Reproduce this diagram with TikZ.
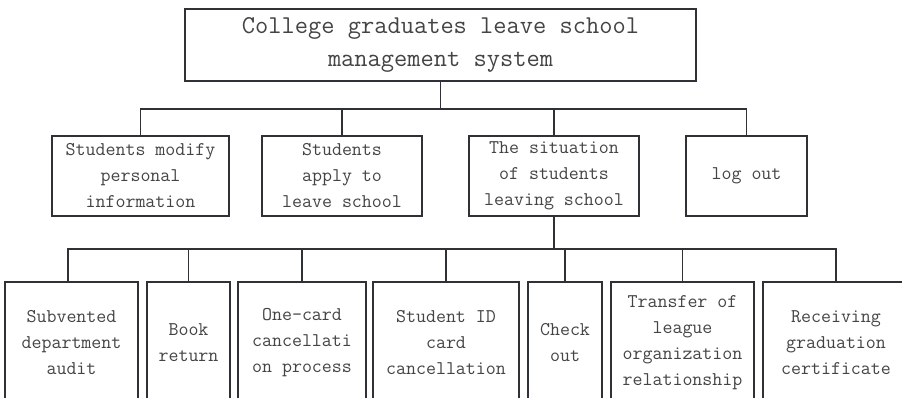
\documentclass[tikz,border=0pt]{standalone}
\usepackage{fontspec}
\definecolor{boxline}{HTML}{2E3236}
\definecolor{txt}{HTML}{444444}
\begin{document}
\begin{tikzpicture}[x=1pt,y=-1pt,
  box/.style={draw=boxline,line width=1.3pt,inner sep=0pt,align=center,text=txt,
    font=\ttfamily\fontsize{19.4}{26}\selectfont},
  topbox/.style={box,font=\ttfamily\fontsize{25.7}{33}\selectfont},
  lvtwo/.style={box,minimum height=80pt},
  lvthree/.style={box,minimum height=122pt},
  link/.style={draw=boxline,line width=1.3pt}]
\useasboundingbox (0,0) rectangle (902,397);
\clip (0,0) rectangle (902,397);
\fill[white] (0,0) rectangle (902,397);
% top
\node[topbox,minimum width=511pt,minimum height=72pt] (top) at (440.5,45) {College graduates leave school\\management system};
% level 2
\node[lvtwo,minimum width=177pt] (a) at (140.5,176) {Students modify\\personal\\information};
\node[lvtwo,minimum width=160pt] (b) at (342,176) {Students\\apply to\\leave school};
\node[lvtwo,minimum width=170pt] (c) at (554,176) {The situation\\of students\\leaving school};
\node[lvtwo,minimum width=121pt] (d) at (746.5,176) {log out};
% level 3
\node[lvthree,minimum width=133pt] (e1) at (71.5,343) {Subvented\\department\\audit};
\node[lvthree,minimum width=83pt] (e2) at (188.5,343) {Book\\return};
\node[lvthree,minimum width=128pt] (e3) at (302,343) {One-card\\cancellati\\on process};
\node[lvthree,minimum width=146pt] (e4) at (446,343) {Student ID\\card\\cancellation};
\node[lvthree,minimum width=74pt] (e5) at (565,343) {Check\\out};
\node[lvthree,minimum width=143pt] (e6) at (682.5,343) {Transfer of\\league\\organization\\relationship};
\node[lvthree,minimum width=146pt] (e7) at (836,343) {Receiving\\graduation\\certificate};
% connectors
\coordinate (bus1) at (440.5,109);
\coordinate (bus2) at (554,249);
\draw[link] (top.south) -- (bus1);
\draw[link] (a.north) |- (bus1) -| (d.north);
\draw[link] (b.north) -- (b.north |- bus1);
\draw[link] (c.north) -- (c.north |- bus1);
\draw[link] (c.south) -- (bus2);
\draw[link] ([xshift=-3.5pt]e1.north) |- (bus2) -| (e7.north);
\foreach \n in {e2,e3,e4,e5,e6}{
  \draw[link] (\n.north) -- (\n.north |- bus2);
}
\end{tikzpicture}
\end{document}
